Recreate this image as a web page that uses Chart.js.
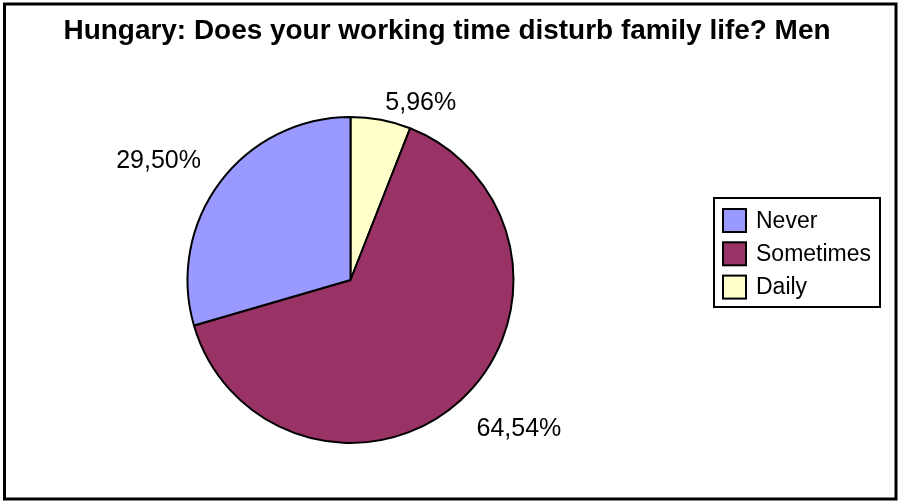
<!DOCTYPE html>
<html>
<head>
<meta charset="utf-8">
<script src="https://cdn.jsdelivr.net/npm/chart.js@4.4.0/dist/chart.umd.min.js"></script>
<style>
  body { margin: 0; background: #fff; }
  canvas { display: block; }
</style>
</head>
<body>
<canvas id="grafico" width="899" height="502"></canvas>
<script>
// dados do gráfico (ordem das fatias: a partir do topo, sentido horário)
const categorias = ['Daily', 'Sometimes', 'Never'];
const valores = [5.96, 64.54, 29.50];
const cores = ['#FFFFCC', '#993366', '#9999FF'];
const titulo = 'Hungary: Does your working time disturb family life? Men';

const fonte = '"Liberation Sans", Arial, sans-serif';
const formatar = v => v.toFixed(2).replace('.', ',') + '%';

// moldura, título, rótulos e legenda com caixa (estilo Excel)
const extras = {
  id: 'extras',
  beforeDraw(chart) {
    const ctx = chart.ctx;
    ctx.save();
    ctx.fillStyle = '#fff';
    ctx.fillRect(0, 0, chart.width, chart.height);
    ctx.restore();
  },
  afterDraw(chart) {
    const ctx = chart.ctx;
    const area = chart.chartArea;
    ctx.save();

    // moldura externa
    ctx.strokeStyle = '#000';
    ctx.lineWidth = 3;
    ctx.strokeRect(4.5, 4, 891.5, 495);

    // título
    ctx.fillStyle = '#000';
    ctx.font = 'bold 27px ' + fonte;
    ctx.textAlign = 'center';
    ctx.textBaseline = 'alphabetic';
    const larg = ctx.measureText(titulo).width;
    ctx.save();
    ctx.translate(447, 39);
    ctx.scale(767 / larg, 1);
    ctx.fillText(titulo, 0, 0);
    ctx.restore();

    // rótulos de porcentagem fora das fatias
    const tam = 25;
    const alturaNum = 0.716 * tam;
    ctx.font = tam + 'px ' + fonte;
    const arcos = chart.getDatasetMeta(0).data;
    arcos.forEach((arco, i) => {
      const p = arco.getProps(['x', 'y', 'startAngle', 'endAngle', 'outerRadius'], true);
      const meio = (p.startAngle + p.endAngle) / 2;
      const d = p.outerRadius + 24;
      const ax = p.x + Math.cos(meio) * d;
      const ay = p.y + Math.sin(meio) * d;
      ctx.textAlign = ax >= p.x ? 'left' : 'right';
      let topo = ay >= p.y ? ay : ay - alturaNum;
      topo = Math.max(topo, area.top - 24);
      ctx.fillText(formatar(valores[i]), ax, topo + alturaNum);
    });

    // legenda (ordem invertida)
    const lx = 714, ly = 198, lw = 166, lh = 109;
    ctx.lineWidth = 2;
    ctx.strokeRect(lx, ly, lw, lh);
    ctx.font = '23px ' + fonte;
    ctx.textAlign = 'left';
    const ordem = [2, 1, 0];
    ordem.forEach((k, j) => {
      const cy = 220.5 + j * 33.3;
      ctx.fillStyle = cores[k];
      ctx.fillRect(723, cy - 11.5, 23, 23);
      ctx.strokeStyle = '#000';
      ctx.strokeRect(723, cy - 11.5, 23, 23);
      ctx.fillStyle = '#000';
      ctx.fillText(categorias[k], 756, cy + 7.3);
    });

    ctx.restore();
  }
};

new Chart(document.getElementById('grafico'), {
  type: 'pie',
  data: {
    labels: categorias,
    datasets: [{
      data: valores,
      backgroundColor: cores,
      borderColor: '#000',
      borderWidth: 2,
    }],
  },
  options: {
    responsive: false,
    animation: false,
    rotation: 0,
    layout: { padding: { left: 186, right: 384, top: 116, bottom: 58 } },
    plugins: {
      legend: { display: false },
      title: { display: false },
      tooltip: { enabled: false },
    },
  },
  plugins: [extras],
});
</script>
</body>
</html>
